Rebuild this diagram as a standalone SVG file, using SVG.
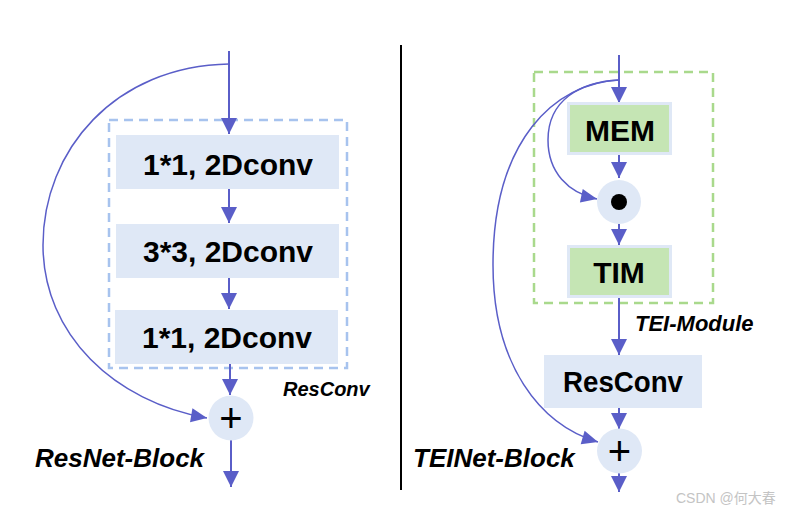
<svg xmlns="http://www.w3.org/2000/svg" width="791" height="514" viewBox="0 0 791 514">
<defs>
<marker id="ah" markerUnits="userSpaceOnUse" markerWidth="18" markerHeight="18" viewBox="0 0 18 18" refX="17" refY="9" orient="auto">
<path d="M1,1 L17,9 L1,17 Z" fill="#5a5ec8"/>
</marker>
<marker id="ahs" markerUnits="userSpaceOnUse" markerWidth="18" markerHeight="18" viewBox="0 0 18 18" refX="17" refY="9" orient="auto">
<path d="M1,2 L17,9 L1,16 Z" fill="#5a5ec8"/>
</marker>
</defs>
<style>
.box{fill:#dfe8f6}
.gbox{fill:#c5e5b4;stroke:#dfe8f6;stroke-width:3}
.circ{fill:#dfe8f6}
.t{font-family:"Liberation Sans",Arial,sans-serif;font-weight:bold;font-size:30px;fill:#000;text-anchor:middle}
.lbl{font-family:"Liberation Sans",Arial,sans-serif;font-weight:bold;font-style:italic;fill:#000}
.plus{font-family:"Liberation Sans",Arial,sans-serif;font-size:40px;fill:#000;text-anchor:middle}
.a{stroke:#5a5ec8;stroke-width:2;fill:none;marker-end:url(#ah)}
.c{stroke:#5a5ec8;stroke-width:1.5;fill:none;marker-end:url(#ahs)}
.l{stroke:#5a5ec8;stroke-width:2;fill:none}
</style>
<rect width="791" height="514" fill="#fff"/>
<line x1="401" y1="45" x2="401" y2="490" stroke="#000" stroke-width="2"/>
<g id="resconv-group-left">
<rect x="109" y="120" width="238" height="248" fill="none" stroke="#a7c3ee" stroke-width="2.5" stroke-dasharray="9,6"/>
</g>
<g id="tei-module-group">
<rect x="534" y="72" width="179" height="231" fill="none" stroke="#a9d98c" stroke-width="2.5" stroke-dasharray="9,6"/>
</g>
<g id="connectors">
<path class="a" d="M229,51 L229,134"/>
<path class="a" d="M229,189 L229,223"/>
<path class="a" d="M229,278 L229,309"/>
<path class="a" d="M230,364 L230,395"/>
<path class="a" d="M231,440 L231,487"/>
<path class="c" d="M229,64 C115,66 43,150 43,245 C43,335 115,402 207,418"/>
<path class="a" d="M619,55 L619,103"/>
<path class="a" d="M619,155 L619,178"/>
<path class="a" d="M619,224 L619,245"/>
<path class="a" d="M619,298 L619,355"/>
<path class="a" d="M619,408 L619,429"/>
<path class="a" d="M619,473 L619,492"/>
<path class="c" d="M619,80 C580,82 548,100 548,140 C548,172 568,193 597,199"/>
<path class="c" d="M619,80 C555,83 493,140 493,265 C493,365 540,425 598,442"/>
</g>
<g id="conv1">
<rect class="box" x="116" y="135" width="223" height="54"/>
<text class="t" x="228" y="175">1*1, 2Dconv</text>
</g>
<g id="conv2">
<rect class="box" x="116" y="224" width="223" height="54"/>
<text class="t" x="228" y="262">3*3, 2Dconv</text>
</g>
<g id="conv3">
<rect class="box" x="115" y="310" width="223" height="54"/>
<text class="t" x="227" y="348">1*1, 2Dconv</text>
</g>
<g id="plus-left">
<circle class="circ" cx="231" cy="418" r="22.5"/>
<text class="plus" x="231" y="432">+</text>
</g>
<g id="label-resconv">
<text class="lbl" x="283" y="396" font-size="20">ResConv</text>
</g>
<g id="label-resnet">
<text class="lbl" x="35" y="467" font-size="26">ResNet-Block</text>
</g>
<g id="mem">
<rect class="gbox" x="568.5" y="103.5" width="102" height="50"/>
<text class="t" x="620" y="141">MEM</text>
</g>
<g id="dot">
<circle class="circ" cx="619" cy="202" r="22"/>
<circle cx="619" cy="202" r="8" fill="#000"/>
</g>
<g id="tim">
<rect class="gbox" x="568.5" y="246.5" width="102" height="50"/>
<text class="t" x="619" y="283">TIM</text>
</g>
<g id="label-tei-module">
<text class="lbl" x="635" y="331" font-size="22">TEI-Module</text>
</g>
<g id="resconv-right">
<rect class="box" x="544" y="355" width="158" height="53"/>
<text class="t" x="623" y="392" textLength="120" lengthAdjust="spacingAndGlyphs">ResConv</text>
</g>
<g id="plus-right">
<circle class="circ" cx="619.5" cy="451" r="22.5"/>
<text class="plus" x="619.5" y="465">+</text>
</g>
<g id="label-teinet">
<text class="lbl" x="413" y="467" font-size="26">TEINet-Block</text>
</g>
<text x="676" y="503" font-family="'Liberation Sans','Noto Sans CJK SC',sans-serif" font-size="14" fill="#c4c4c4">CSDN @何大春</text>
</svg>
